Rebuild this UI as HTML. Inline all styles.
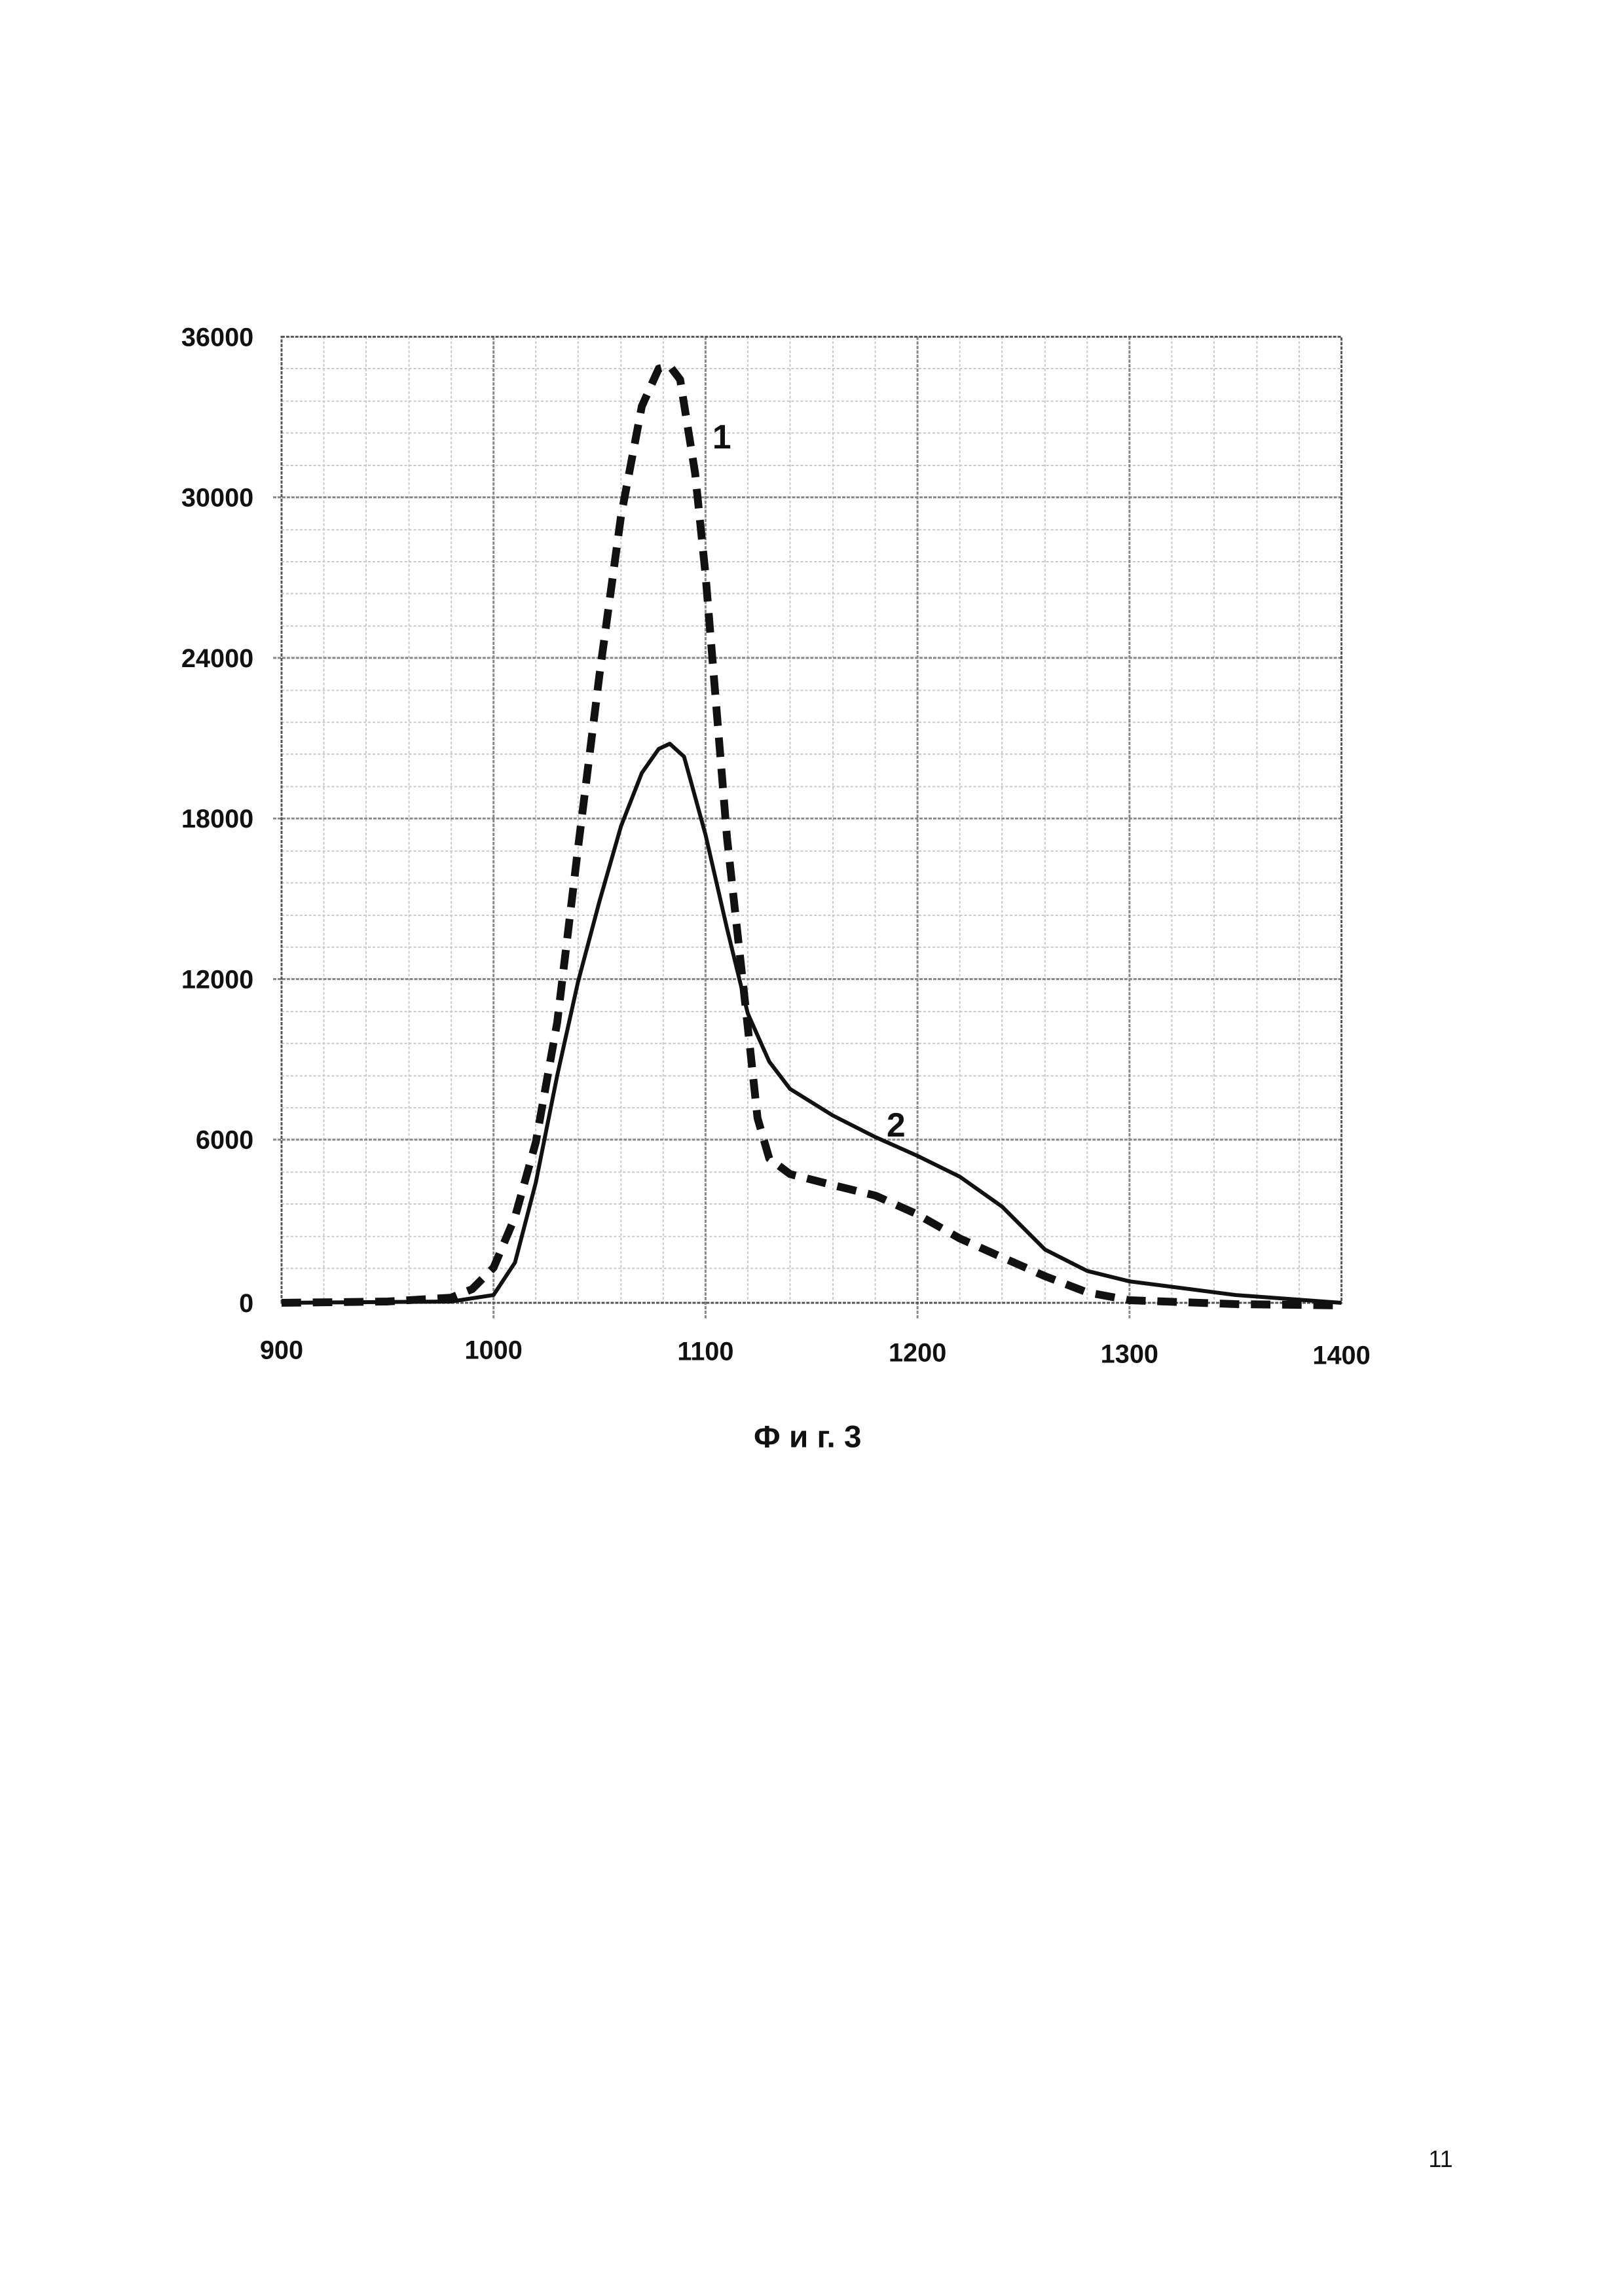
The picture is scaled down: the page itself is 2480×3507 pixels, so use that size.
<!DOCTYPE html>
<html><head><meta charset="utf-8"><style>
html,body{margin:0;padding:0;background:#fff;}
svg{display:block}
text{font-family:"Liberation Sans",sans-serif;fill:#111}
</style></head><body>
<svg width="2480" height="3507" viewBox="0 0 2480 3507" xmlns="http://www.w3.org/2000/svg">
<g transform="scale(0.993)">
<g stroke="#c8c8c8" stroke-width="2" stroke-dasharray="4 3">
<line x1="498" y1="518" x2="498" y2="2004"/><line x1="563" y1="518" x2="563" y2="2004"/><line x1="629" y1="518" x2="629" y2="2004"/><line x1="694" y1="518" x2="694" y2="2004"/>
<line x1="824" y1="518" x2="824" y2="2004"/><line x1="889" y1="518" x2="889" y2="2004"/><line x1="955" y1="518" x2="955" y2="2004"/><line x1="1020" y1="518" x2="1020" y2="2004"/>
<line x1="1150" y1="518" x2="1150" y2="2004"/><line x1="1215" y1="518" x2="1215" y2="2004"/><line x1="1281" y1="518" x2="1281" y2="2004"/><line x1="1346" y1="518" x2="1346" y2="2004"/>
<line x1="1476" y1="518" x2="1476" y2="2004"/><line x1="1541" y1="518" x2="1541" y2="2004"/><line x1="1607" y1="518" x2="1607" y2="2004"/><line x1="1672" y1="518" x2="1672" y2="2004"/>
<line x1="1802" y1="518" x2="1802" y2="2004"/><line x1="1867" y1="518" x2="1867" y2="2004"/><line x1="1933" y1="518" x2="1933" y2="2004"/><line x1="1998" y1="518" x2="1998" y2="2004"/>
<line x1="433" y1="567" x2="2063" y2="567"/><line x1="433" y1="617" x2="2063" y2="617"/><line x1="433" y1="666" x2="2063" y2="666"/><line x1="433" y1="716" x2="2063" y2="716"/>
<line x1="433" y1="815" x2="2063" y2="815"/><line x1="433" y1="864" x2="2063" y2="864"/><line x1="433" y1="913" x2="2063" y2="913"/><line x1="433" y1="963" x2="2063" y2="963"/>
<line x1="433" y1="1062" x2="2063" y2="1062"/><line x1="433" y1="1111" x2="2063" y2="1111"/><line x1="433" y1="1160" x2="2063" y2="1160"/><line x1="433" y1="1210" x2="2063" y2="1210"/>
<line x1="433" y1="1309" x2="2063" y2="1309"/><line x1="433" y1="1358" x2="2063" y2="1358"/><line x1="433" y1="1408" x2="2063" y2="1408"/><line x1="433" y1="1457" x2="2063" y2="1457"/>
<line x1="433" y1="1556" x2="2063" y2="1556"/><line x1="433" y1="1605" x2="2063" y2="1605"/><line x1="433" y1="1655" x2="2063" y2="1655"/><line x1="433" y1="1704" x2="2063" y2="1704"/>
<line x1="433" y1="1803" x2="2063" y2="1803"/><line x1="433" y1="1852" x2="2063" y2="1852"/><line x1="433" y1="1902" x2="2063" y2="1902"/><line x1="433" y1="1951" x2="2063" y2="1951"/>
</g>
<g stroke="#888" stroke-width="3" stroke-dasharray="5 2">
<line x1="759" y1="518" x2="759" y2="2030"/><line x1="1085" y1="518" x2="1085" y2="2030"/><line x1="1411" y1="518" x2="1411" y2="2030"/><line x1="1737" y1="518" x2="1737" y2="2030"/>
<line x1="420" y1="765" x2="2063" y2="765"/><line x1="420" y1="1012" x2="2063" y2="1012"/><line x1="420" y1="1259" x2="2063" y2="1259"/><line x1="420" y1="1506" x2="2063" y2="1506"/><line x1="420" y1="1753" x2="2063" y2="1753"/>
</g>
<g stroke="#555" stroke-width="3" fill="none">
<rect x="433" y="518" width="1630" height="1486" stroke-dasharray="5 2"/>
</g>
<g font-size="40" font-weight="bold" text-anchor="end">
<text x="390" y="532">36000</text><text x="390" y="779">30000</text><text x="390" y="1026">24000</text>
<text x="390" y="1273">18000</text><text x="390" y="1520">12000</text><text x="390" y="1767">6000</text><text x="390" y="2018">0</text>
</g>
<g font-size="40" font-weight="bold" text-anchor="middle">
<text x="433" y="2090">900</text><text x="759" y="2090">1000</text><text x="1085" y="2092">1100</text>
<text x="1411" y="2094">1200</text><text x="1737" y="2096">1300</text><text x="2063" y="2098">1400</text>
</g>
<polyline fill="none" stroke="#111" stroke-width="6" stroke-linejoin="round" points="433,2004 694,2002 759,1992 792,1942 824,1819 857,1654 889,1510 922,1386 955,1271 987,1189 1013,1152 1030,1144 1052,1164 1085,1284 1118,1428 1150,1559 1183,1633 1215,1675 1281,1716 1346,1749 1411,1778 1476,1810 1541,1856 1607,1922 1672,1955 1737,1971 1900,1992 2063,2004"/>
<polyline fill="none" stroke="#111" stroke-width="12" stroke-linejoin="round" stroke-dasharray="30 18" points="433,2004 596,2002 694,1996 726,1983 759,1950 792,1872 824,1757 857,1572 889,1304 922,1037 955,794 987,625 1013,567 1030,563 1046,584 1069,728 1085,884 1118,1288 1150,1580 1165,1720 1183,1782 1215,1806 1281,1823 1346,1839 1411,1868 1476,1905 1541,1934 1607,1963 1672,1988 1737,2000 1900,2006 2063,2008"/>
<text x="1110" y="690" font-size="52" font-weight="bold" text-anchor="middle">1</text>
<text x="1378" y="1748" font-size="52" font-weight="bold" text-anchor="middle">2</text>
<text x="1242" y="2226" font-size="48" font-weight="bold" text-anchor="middle">Ф и г. 3</text>
</g>
<text x="2200" y="3310" font-size="36" text-anchor="middle">11</text>
</svg>
</body></html>
